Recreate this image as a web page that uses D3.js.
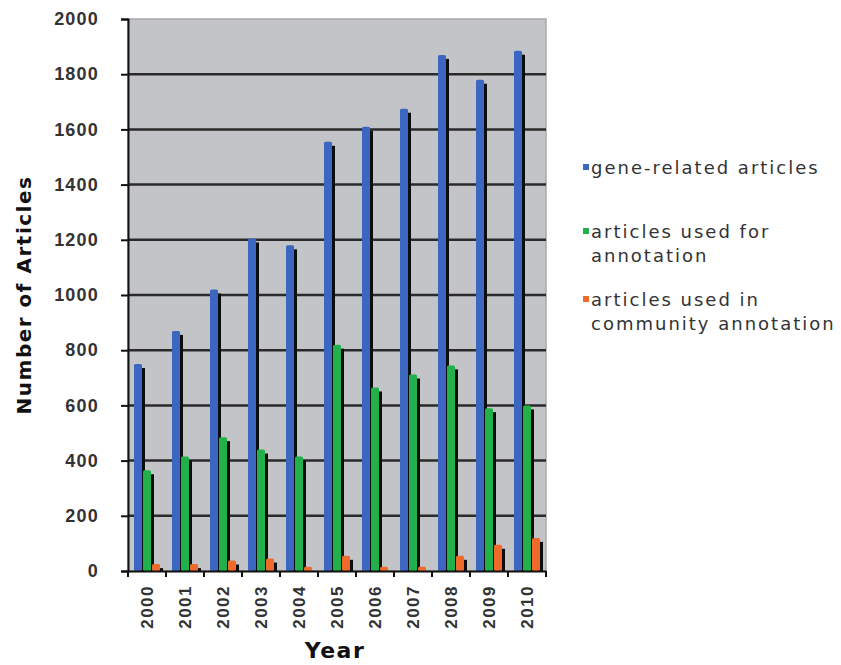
<!DOCTYPE html>
<html lang="en">
<head>
  <meta charset="UTF-8">
  <title>Articles per year</title>
  <script src="https://d3js.org/d3.v7.min.js"></script>
  <style>
    body { margin: 0; padding: 0; background: #fff; font-family: "DejaVu Sans", Verdana, sans-serif; }
    .axis text { fill: #333; font-weight: bold; }
    .axis path, .axis line { stroke: #111; stroke-width: 2; }
    .grid line { stroke: #2a2a2a; stroke-width: 2.5; }
    .axis-label { font-weight: bold; fill: #111; }
    .legend text { fill: #333; font-size: 18px; letter-spacing: 2px; }
  </style>
</head>
<body>
  <div id="chart"></div>
  <script>
    const years = ["2000", "2001", "2002", "2003", "2004", "2005", "2006", "2007", "2008", "2009", "2010"];
    const geneRelated = [750, 870, 1020, 1205, 1180, 1555, 1610, 1675, 1870, 1780, 1885];
    const usedForAnnotation = [365, 415, 485, 440, 415, 820, 665, 712, 745, 590, 600];
    const usedInCommunity = [25, 25, 38, 45, 15, 55, 15, 15, 55, 95, 120];
    const yTicks = [0, 200, 400, 600, 800, 1000, 1200, 1400, 1600, 1800, 2000];

    const seriesNames = ["gene-related articles", "articles used for annotation", "articles used in community annotation"];
    const seriesColors = ["#3b67c0", "#22b04a", "#f06a2c"];
    const seriesValues = [geneRelated, usedForAnnotation, usedInCommunity];

    const data = years.map((y, i) => ({
      year: y,
      values: seriesValues.map((s, k) => ({ key: k, value: s[i] }))
    }));

    const margin = { top: 19, right: 295, bottom: 94, left: 128 },
      width = 841 - margin.left - margin.right,
      height = 665 - margin.top - margin.bottom;

    const svg = d3.select("#chart")
      .append("svg")
      .attr("width", 841)
      .attr("height", 665);

    const g = svg.append("g")
      .attr("transform", `translate(${margin.left}, ${margin.top})`);

    const x = d3.scaleBand()
      .domain(years)
      .range([0, width]);

    const xInner = d3.scaleBand()
      .domain([0, 1, 2])
      .range([6, 33]);

    const y = d3.scaleLinear()
      .domain([0, 2000])
      .range([height, 0]);

    // plot background
    g.append("rect")
      .attr("width", width)
      .attr("height", height)
      .attr("fill", "#c3c4c8")
      .attr("stroke", "#a8a8aa")
      .attr("stroke-width", 1.5);

    // gridlines
    g.append("g")
      .attr("class", "grid")
      .selectAll("line")
      .data(yTicks.filter(d => d > 0 && d < 2000))
      .enter()
      .append("line")
      .attr("x1", 0)
      .attr("x2", width)
      .attr("y1", d => y(d))
      .attr("y2", d => y(d));

    const groups = g.selectAll("g.year")
      .data(data)
      .enter()
      .append("g")
      .attr("class", "year")
      .attr("transform", d => `translate(${x(d.year)}, 0)`);

    const bw = 8;

    // dark 3d shadow behind each bar
    groups.selectAll("rect.shadow")
      .data(d => d.values)
      .enter()
      .append("rect")
      .attr("class", "shadow")
      .attr("x", d => xInner(d.key) + 3)
      .attr("y", d => Math.min(y(d.value) + 4, height))
      .attr("width", bw)
      .attr("height", d => Math.max(height - y(d.value) - 4, 0))
      .attr("fill", "#0d0d0d");

    groups.selectAll("rect.bar")
      .data(d => d.values)
      .enter()
      .append("rect")
      .attr("class", "bar")
      .attr("x", d => xInner(d.key))
      .attr("y", d => y(d.value))
      .attr("width", bw)
      .attr("height", d => height - y(d.value))
      .attr("rx", 1.5)
      .attr("fill", d => seriesColors[d.key]);

    // y axis
    g.append("g")
      .attr("class", "axis")
      .call(d3.axisLeft(y).tickValues(yTicks).tickFormat(d3.format("d")).tickSize(7).tickPadding(22))
      .call(a => a.selectAll("text").style("font-size", "18px").style("letter-spacing", "1.2px"));

    // x axis
    const xAxis = g.append("g")
      .attr("class", "axis")
      .attr("transform", `translate(0, ${height})`)
      .call(d3.axisBottom(x).tickSize(0).tickFormat(d => d));

    xAxis.selectAll("text")
      .style("font-size", "17px")
      .style("letter-spacing", "1.5px")
      .attr("transform", "rotate(-90)")
      .attr("text-anchor", "end")
      .attr("x", -14)
      .attr("y", 0)
      .attr("dy", "0.35em");

    // tick marks on band edges
    xAxis.selectAll("line.edge")
      .data(years.map(d => x(d)).concat([width]))
      .enter()
      .append("line")
      .attr("class", "edge")
      .attr("x1", d => d)
      .attr("x2", d => d)
      .attr("y1", 0)
      .attr("y2", 6);

    g.append("text")
      .attr("class", "axis-label")
      .attr("x", width / 2 - 2)
      .attr("y", height + 87)
      .attr("text-anchor", "middle")
      .style("font-size", "22px")
      .style("letter-spacing", "1.5px")
      .text("Year");

    g.append("text")
      .attr("class", "axis-label")
      .attr("transform", "rotate(-90)")
      .attr("x", -height / 2)
      .attr("y", -97)
      .attr("text-anchor", "middle")
      .style("font-size", "20px")
      .style("letter-spacing", "1.5px")
      .text("Number of Articles");

    // legend
    const legendLines = [["gene-related articles"], ["articles used for", "annotation"], ["articles used in", "community annotation"]];
    const legendTops = [168, 232, 300];
    const legend = svg.append("g").attr("class", "legend");
    legendLines.forEach((lines, k) => {
      legend.append("rect")
        .attr("x", 583)
        .attr("y", legendTops[k] - 4)
        .attr("width", 6)
        .attr("height", 6)
        .attr("fill", seriesColors[k]);
      lines.forEach((t, j) => {
        legend.append("text")
          .attr("x", 591)
          .attr("y", legendTops[k] + j * 24)
          .attr("dy", "0.35em")
          .text(t);
      });
    });
  </script>
</body>
</html>
